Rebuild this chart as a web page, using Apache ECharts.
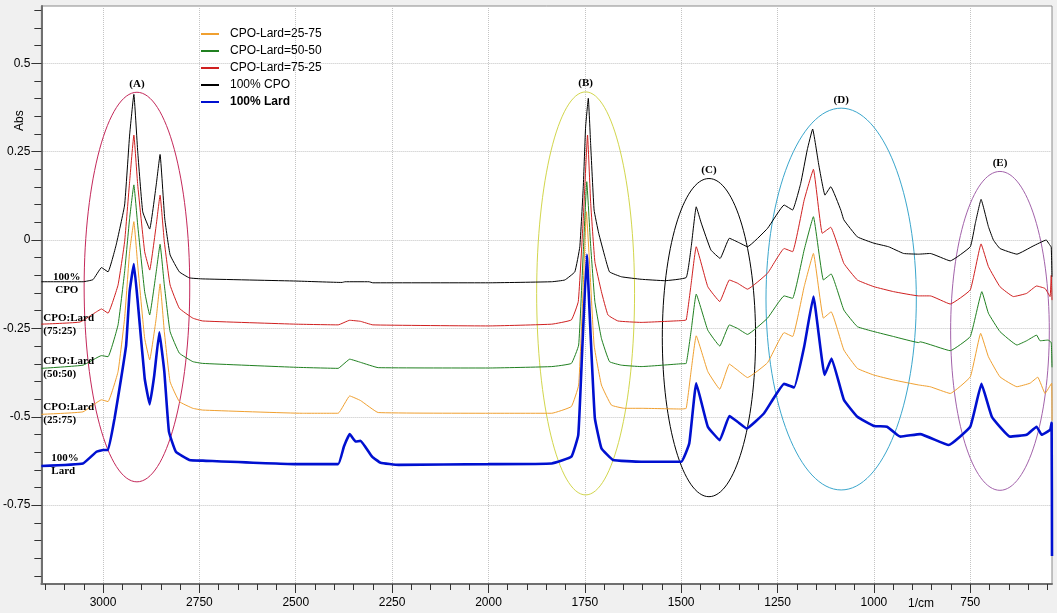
<!DOCTYPE html>
<html>
<head>
<meta charset="utf-8">
<script src="https://cdn.jsdelivr.net/npm/echarts@6/dist/echarts.min.js"></script>
<style>
  html, body { margin: 0; padding: 0; background: #f0f0f0; }
  #chart { width: 1057px; height: 613px; }
</style>
</head>
<body>
<div id="chart"></div>
<script>
// wavenumber (1/cm), absorbance
const cpoData = [
  [3160, -0.118], [3052, -0.118], [3026, -0.112], [3004, -0.078], [2987, -0.090], [2966, -0.014],
  [2944, 0.099], [2931, 0.297], [2920, 0.412], [2910, 0.250], [2897, 0.080], [2879, 0.031],
  [2862, 0.156], [2852, 0.242], [2840, 0.062], [2826, -0.042], [2802, -0.090], [2776, -0.107],
  [2741, -0.110], [2500, -0.116], [2380, -0.120], [2372, -0.118], [2310, -0.118], [2300, -0.121],
  [2000, -0.121], [1836, -0.118], [1802, -0.113], [1776, -0.090], [1763, -0.019], [1754, 0.151],
  [1748, 0.320], [1741, 0.401], [1735, 0.273], [1726, 0.085], [1714, 0.019], [1698, -0.047],
  [1686, -0.090], [1655, -0.104], [1604, -0.111], [1543, -0.115], [1487, -0.106], [1474, -0.019],
  [1461, 0.094], [1448, 0.048], [1423, -0.028], [1399, -0.052], [1375, 0.005], [1349, -0.008],
  [1328, -0.019], [1276, 0.033], [1233, 0.099], [1211, 0.085], [1190, 0.160], [1173, 0.255],
  [1159, 0.314], [1143, 0.212], [1127, 0.127], [1112, 0.151], [1086, 0.085], [1078, 0.057],
  [1043, 0.009], [1000, -0.009], [962, -0.019], [923, -0.038], [884, -0.040], [854, -0.038],
  [802, -0.059], [750, -0.019], [737, 0.047], [722, 0.115], [703, 0.038], [690, 0.000],
  [673, -0.024], [629, -0.040], [587, -0.017], [553, 0.000], [545, -0.012], [540, -0.020], [538, -0.104]
];
const cpo75Data = [
  [3160, -0.238], [3060, -0.232], [3017, -0.203], [3004, -0.195], [2987, -0.207], [2961, -0.127],
  [2944, -0.005], [2931, 0.165], [2920, 0.297], [2910, 0.156], [2892, -0.033], [2879, -0.085],
  [2862, 0.042], [2852, 0.127], [2841, -0.005], [2826, -0.127], [2802, -0.193], [2767, -0.221],
  [2741, -0.229], [2500, -0.238], [2390, -0.240], [2360, -0.227], [2332, -0.230], [2300, -0.240],
  [2000, -0.243], [1836, -0.238], [1785, -0.226], [1767, -0.174], [1754, 0.061], [1743, 0.297],
  [1735, 0.108], [1724, -0.061], [1707, -0.146], [1690, -0.212], [1664, -0.229], [1604, -0.233],
  [1500, -0.228], [1487, -0.226], [1474, -0.122], [1461, -0.019], [1431, -0.132], [1400, -0.174],
  [1375, -0.113], [1354, -0.122], [1328, -0.139], [1276, -0.094], [1233, -0.024], [1211, -0.033],
  [1181, 0.113], [1157, 0.200], [1134, 0.019], [1112, 0.036], [1078, -0.066], [1043, -0.113],
  [1000, -0.132], [949, -0.146], [884, -0.158], [854, -0.158], [802, -0.181], [750, -0.141],
  [722, -0.011], [703, -0.075], [673, -0.132], [638, -0.160], [604, -0.151], [578, -0.130],
  [556, -0.137], [543, -0.160], [540, -0.100], [538, -0.170]
];
const cpo50Data = [
  [3160, -0.363], [3052, -0.354], [3004, -0.327], [2987, -0.330], [2961, -0.240], [2944, -0.090],
  [2931, 0.061], [2920, 0.156], [2910, 0.042], [2892, -0.146], [2879, -0.212], [2862, -0.090],
  [2852, -0.012], [2841, -0.127], [2826, -0.259], [2802, -0.320], [2767, -0.344], [2741, -0.349],
  [2500, -0.360], [2390, -0.363], [2375, -0.350], [2360, -0.337], [2332, -0.346], [2286, -0.361],
  [2000, -0.362], [1836, -0.358], [1785, -0.349], [1766, -0.297], [1754, -0.033], [1745, 0.165],
  [1735, -0.014], [1724, -0.174], [1707, -0.278], [1686, -0.344], [1655, -0.354], [1604, -0.358],
  [1500, -0.350], [1487, -0.349], [1474, -0.255], [1461, -0.153], [1431, -0.255], [1400, -0.300],
  [1375, -0.240], [1354, -0.250], [1328, -0.267], [1276, -0.221], [1233, -0.158], [1211, -0.165],
  [1181, -0.028], [1157, 0.066], [1131, -0.113], [1111, -0.096], [1078, -0.198], [1043, -0.245],
  [1000, -0.259], [949, -0.273], [884, -0.290], [880, -0.288], [802, -0.313], [750, -0.273],
  [720, -0.146], [703, -0.207], [673, -0.259], [629, -0.297], [604, -0.285], [578, -0.269],
  [569, -0.285], [548, -0.283], [540, -0.290], [538, -0.360]
];
const cpo25Data = [
  [3160, -0.493], [3052, -0.486], [3004, -0.452], [2987, -0.457], [2961, -0.372], [2944, -0.221],
  [2931, -0.033], [2920, 0.052], [2910, -0.071], [2892, -0.278], [2879, -0.339], [2862, -0.221],
  [2852, -0.124], [2841, -0.259], [2826, -0.401], [2802, -0.457], [2767, -0.476], [2741, -0.481],
  [2483, -0.490], [2390, -0.490], [2360, -0.441], [2332, -0.454], [2286, -0.488], [2000, -0.490],
  [1836, -0.490], [1785, -0.471], [1766, -0.410], [1754, -0.127], [1746, 0.080], [1737, -0.080],
  [1726, -0.297], [1707, -0.410], [1681, -0.467], [1647, -0.476], [1604, -0.476], [1500, -0.478],
  [1487, -0.476], [1474, -0.368], [1461, -0.271], [1431, -0.372], [1400, -0.422], [1375, -0.351],
  [1354, -0.368], [1328, -0.389], [1276, -0.347], [1233, -0.262], [1211, -0.273], [1181, -0.132],
  [1157, -0.038], [1131, -0.221], [1111, -0.203], [1078, -0.311], [1043, -0.363], [1000, -0.382],
  [949, -0.396], [884, -0.410], [854, -0.415], [802, -0.434], [750, -0.387], [723, -0.264],
  [703, -0.330], [673, -0.387], [629, -0.415], [595, -0.405], [575, -0.388], [556, -0.434],
  [539, -0.405], [538, -0.510]
];
const lardData = [
  [3160, -0.639], [3052, -0.632], [3017, -0.599], [3000, -0.594], [2987, -0.594], [2970, -0.504],
  [2953, -0.391], [2940, -0.297], [2931, -0.146], [2920, -0.068], [2910, -0.174], [2892, -0.391],
  [2879, -0.465], [2867, -0.382], [2854, -0.261], [2841, -0.372], [2829, -0.542], [2811, -0.599],
  [2776, -0.622], [2741, -0.624], [2500, -0.634], [2390, -0.634], [2375, -0.584], [2360, -0.549],
  [2345, -0.570], [2332, -0.568], [2302, -0.613], [2280, -0.630], [2233, -0.636], [2000, -0.634],
  [1836, -0.632], [1785, -0.613], [1767, -0.551], [1757, -0.316], [1745, -0.042], [1735, -0.269],
  [1724, -0.504], [1707, -0.589], [1677, -0.622], [1604, -0.627], [1500, -0.627], [1479, -0.575],
  [1461, -0.405], [1431, -0.528], [1400, -0.566], [1375, -0.498], [1354, -0.514], [1330, -0.533],
  [1285, -0.490], [1233, -0.407], [1207, -0.417], [1181, -0.302], [1157, -0.160], [1128, -0.382],
  [1110, -0.335], [1078, -0.452], [1043, -0.500], [1000, -0.526], [966, -0.528], [940, -0.551],
  [931, -0.556], [880, -0.549], [806, -0.580], [750, -0.528], [721, -0.407], [694, -0.500],
  [647, -0.556], [604, -0.551], [578, -0.528], [565, -0.551], [543, -0.537], [539, -0.517], [538, -0.894]
];

const seriesNames = ['CPO-Lard=25-75', 'CPO-Lard=50-50', 'CPO-Lard=75-25', '100% CPO', '100% Lard'];

const xLabelTicks = [3000, 2750, 2500, 2250, 2000, 1750, 1500, 1250, 1000, 750];
const yLabelTicks = [0.5, 0.25, 0, -0.25, -0.5, -0.75];
const xMinorTicks = [];
for (let v = 3150; v >= 550; v -= 50) xMinorTicks.push(v);
const yMinorTicks = [];
for (let k = -19; k <= 13; k++) yMinorTicks.push(Math.round(k * 5) / 100);

// band annotations: label, centre wavenumber, centre abs, half width (1/cm), half height (abs)
const bandLabels = ['(A)', '(B)', '(C)', '(D)', '(E)'];
const bandCentre = [[2912, -0.133], [1748, -0.151], [1428, -0.276], [1085, -0.167], [673, -0.257]];
const bandRadius = [[137, 0.551], [127, 0.570], [121, 0.450], [195, 0.540], [128, 0.451]];
const bandColors = ['#c4285a', '#d2d64c', '#000000', '#3aa6cc', '#a262aa'];

// sample labels on the left
const sideText = ['100%\nCPO', 'CPO:Lard\n(75:25)', 'CPO:Lard\n(50:50)', 'CPO:Lard\n(25:75)', '100%\nLard'];
const sidePos = [[3094, -0.123], [3155, -0.240], [3155, -0.362], [3155, -0.490], [3134, -0.636]];
const sideAlign = ['center', 'left', 'left', 'left', 'left'];

const sans = 'Arial, "Liberation Sans", sans-serif';
const serif = '"Times New Roman", "Liberation Serif", serif';

const chart = echarts.init(document.getElementById('chart'));

const lineColors = ['#f0a030', '#208020', '#d02020', '#000000', '#0010d0'];
const lineData = [cpo25Data, cpo50Data, cpo75Data, cpoData, lardData];

const series = lineData.map((d, i) => ({
  name: seriesNames[i],
  type: 'line',
  data: d,
  xAxisIndex: 0,
  yAxisIndex: 0,
  symbol: 'none',
  smooth: 0.1,
  lineStyle: {color: lineColors[i], width: i === 4 ? 2.6 : 1},
  itemStyle: {color: lineColors[i]},
  z: 3 + i
}));

series.push({
  type: 'custom',
  name: 'bands',
  xAxisIndex: 0,
  yAxisIndex: 0,
  data: bandLabels.map((_, i) => i),
  silent: true,
  z: 2,
  renderItem: function (params, api) {
    const i = params.dataIndex;
    const c = api.coord(bandCentre[i]);
    const e = api.coord([bandCentre[i][0] - bandRadius[i][0], bandCentre[i][1] + bandRadius[i][1]]);
    const rx = Math.abs(e[0] - c[0]);
    const ry = Math.abs(e[1] - c[1]);
    return {
      type: 'group',
      children: [
        {type: 'ellipse', shape: {cx: c[0], cy: c[1], rx: rx, ry: ry},
          style: {fill: 'none', stroke: bandColors[i], lineWidth: 1}},
        {type: 'text', x: c[0], y: c[1] - ry - 3,
          style: {text: bandLabels[i], fill: '#000', font: 'bold 11px ' + serif,
            textAlign: 'center', textVerticalAlign: 'bottom'}}
      ]
    };
  }
});

series.push({
  type: 'custom',
  name: 'sideLabels',
  xAxisIndex: 0,
  yAxisIndex: 0,
  data: sideText.map((_, i) => i),
  silent: true,
  z: 10,
  renderItem: function (params, api) {
    const i = params.dataIndex;
    const p = api.coord(sidePos[i]);
    return {
      type: 'text', x: p[0], y: p[1],
      style: {text: sideText[i], fill: '#000', font: 'bold 11px ' + serif,
        lineHeight: 13, textAlign: sideAlign[i], textVerticalAlign: 'middle'}
    };
  }
});

const option = {
  animation: false,
  backgroundColor: '#f0f0f0',
  grid: {left: 38, right: 5, top: 6, bottom: 29, show: true, backgroundColor: '#ffffff',
    borderColor: '#8a8a8a', borderWidth: 1},
  legend: {
    orient: 'vertical',
    left: 200,
    top: 28,
    padding: 0,
    itemWidth: 18,
    itemHeight: 12,
    itemGap: 5,
    selectedMode: false,
    itemStyle: {opacity: 0},
    textStyle: {color: '#000', fontSize: 12, fontFamily: sans, padding: [0, 0, 0, 6]},
    data: seriesNames.map((n, i) => i === 4
      ? {name: n, textStyle: {fontWeight: 'bold', color: '#000', fontSize: 12, fontFamily: sans, padding: [0, 0, 0, 6]}}
      : {name: n})
  },
  xAxis: [
    {
      type: 'value', inverse: true, min: 538, max: 3160, position: 'bottom',
      axisLine: {show: true, onZero: false, lineStyle: {color: '#707070', width: 2}},
      axisTick: {show: true, customValues: xLabelTicks, length: 9, lineStyle: {color: '#333'}},
      axisLabel: {show: true, customValues: xLabelTicks, margin: 13, color: '#000', fontSize: 12,
        fontFamily: sans, formatter: v => String(v)},
      splitLine: {show: true, lineStyle: {type: 'dotted', color: '#c4c4c4', width: 1}}
    },
    {
      type: 'value', inverse: true, min: 538, max: 3160, position: 'bottom',
      axisLine: {show: false, onZero: false},
      axisTick: {show: true, customValues: xMinorTicks, length: 6, lineStyle: {color: '#333'}},
      axisLabel: {show: false},
      splitLine: {show: false}
    }
  ],
  yAxis: [
    {
      type: 'value', min: -0.973, max: 0.662, position: 'left',
      axisLine: {show: true, onZero: false, lineStyle: {color: '#707070', width: 2}},
      axisTick: {show: true, customValues: yLabelTicks, length: 10, lineStyle: {color: '#333'}},
      axisLabel: {show: true, customValues: yLabelTicks, margin: 11, color: '#000', fontSize: 12,
        fontFamily: sans, formatter: v => String(v)},
      splitLine: {show: true, lineStyle: {type: 'dotted', color: '#c4c4c4', width: 1}}
    },
    {
      type: 'value', min: -0.973, max: 0.662, position: 'left',
      axisLine: {show: false, onZero: false},
      axisTick: {show: true, customValues: yMinorTicks, length: 7, lineStyle: {color: '#333'}},
      axisLabel: {show: false},
      splitLine: {show: false}
    }
  ],
  graphic: [
    {type: 'text', left: 908, top: 598, style: {text: '1/cm', fill: '#000', font: '12px ' + sans}},
    {type: 'text', x: 14, y: 131, rotation: Math.PI / 2,
      style: {text: 'Abs', fill: '#000', font: '12px ' + sans}}
  ],
  series: series
};

chart.setOption(option);
</script>
</body>
</html>
